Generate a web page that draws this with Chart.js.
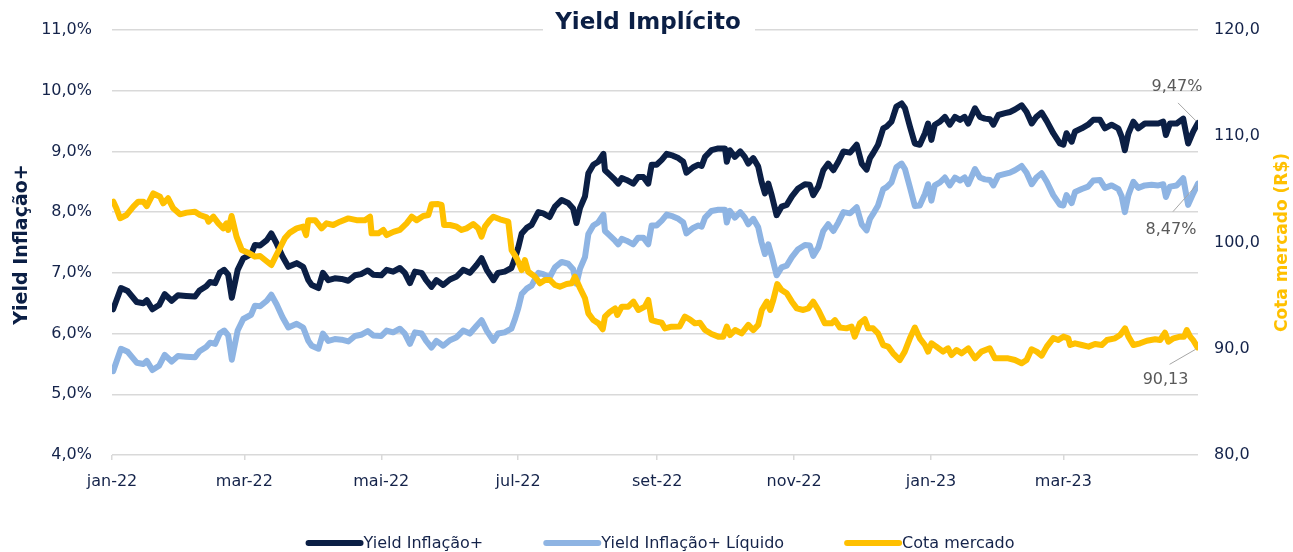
<!DOCTYPE html>
<html>
<head>
<meta charset="utf-8">
<script src="https://cdn.jsdelivr.net/npm/chart.js@4.4.0/dist/chart.umd.min.js"></script>
<style>
  html, body { margin: 0; padding: 0; background: #fff; }
  #wrap { width: 1293px; height: 552px; }
</style>
</head>
<body>
<div id="wrap"><canvas id="chart" width="1293" height="552"></canvas></div>
<script>
// x axis: days since 2022-01-01, labelled at the first day of every other month
const monthDays = [0, 59, 120, 181, 243, 304, 365, 424];
const monthLabels = ["jan-22", "mar-22", "mai-22", "jul-22", "set-22", "nov-22", "jan-23", "mar-23"];
const lastDay = 484;

const leftTicks = [4, 5, 6, 7, 8, 9, 10, 11];
const rightTicks = [80, 90, 100, 110, 120];

const seriesNames = ["Yield Inflação+", "Yield Inflação+ Líquido", "Cota mercado"];

// Yield Inflação+ and Yield Inflação+ Líquido (% a.a.)
const yieldDays = [0.5,4,7,11,14,15.5,18,21,23.5,26.6,29.4,33,37,39,42,43.7,46,48,50,51.8,53.4,56,58.5,62,63.7,66,69,71,73.4,76,78.6,82.3,85.2,87.5,89,92,94,96.4,99.3,102.3,105.3,108.3,111,114,116.4,120,122.4,125.3,128.3,130.5,132.8,135,138,140,142.4,144.6,147.6,150.6,153.6,156.5,159.5,162.5,164.7,167,170,172,175,178,179.6,181,182.6,184.8,187,190,192.2,195,197.4,200.4,203.3,205.5,207,208.6,210.8,212.3,214.5,216.7,219,219.7,222,224.2,225.6,227.2,229.3,232.3,234.5,236.8,239,240.5,242.7,245,247.2,250,252.4,254.6,256,259,261.3,262.8,264.3,267.2,270.2,273.2,274,275.4,277.6,280,282,283.6,285.8,288,289.5,291,292.5,294,296.2,298.4,300.7,303,305.8,308.8,311,312.5,314.8,317,319.2,321.5,323.7,326,328.9,331.9,334.1,336.3,337.8,339.2,341.4,343.7,345.2,347.4,349.6,351.9,353.4,355.6,357.8,360,362.3,363.7,365.2,366.7,369,371.2,373.4,375.7,378,380,381.6,384.6,386.8,389,391.3,392.8,395,398,400.2,402.4,405.4,407.6,409.9,412,414.3,416.6,419.5,422.5,424,425.4,427.7,429.2,432.2,435,437.3,440.3,442.5,445.5,448.5,450,451.4,453,455.2,457.4,460.3,463.3,466.3,468.5,469.7,471.5,474.5,477.4,479.6,481.9,484];

const yieldValues = [6.40,6.75,6.70,6.52,6.50,6.55,6.40,6.47,6.65,6.54,6.63,6.62,6.61,6.71,6.78,6.85,6.83,7.00,7.05,6.97,6.59,7.05,7.24,7.31,7.46,7.45,7.54,7.65,7.48,7.27,7.10,7.16,7.10,6.88,6.80,6.75,7.00,6.88,6.91,6.90,6.87,6.96,6.98,7.04,6.97,6.96,7.05,7.02,7.08,7.00,6.83,7.02,7.00,6.88,6.77,6.88,6.80,6.89,6.94,7.05,7.00,7.13,7.24,7.05,6.88,7.00,7.02,7.08,7.24,7.41,7.65,7.74,7.79,8.00,7.98,7.92,8.09,8.20,8.15,8.06,7.82,8.07,8.26,8.64,8.78,8.83,8.96,8.69,8.61,8.53,8.47,8.56,8.53,8.47,8.58,8.58,8.47,8.78,8.78,8.86,8.96,8.93,8.89,8.83,8.65,8.74,8.78,8.76,8.91,9.02,9.05,9.05,8.83,9.02,8.91,9.00,8.91,8.80,8.89,8.75,8.50,8.31,8.47,8.28,7.95,8.09,8.12,8.26,8.39,8.46,8.45,8.28,8.42,8.69,8.80,8.69,8.83,9.00,8.98,9.11,8.80,8.70,8.89,8.97,9.11,9.38,9.41,9.49,9.74,9.79,9.71,9.41,9.13,9.11,9.30,9.46,9.19,9.44,9.49,9.57,9.44,9.57,9.52,9.57,9.46,9.71,9.57,9.54,9.53,9.44,9.60,9.63,9.65,9.69,9.76,9.65,9.46,9.57,9.64,9.50,9.30,9.13,9.11,9.30,9.16,9.33,9.38,9.44,9.52,9.52,9.38,9.44,9.38,9.24,9.02,9.30,9.49,9.38,9.46,9.46,9.46,9.49,9.27,9.46,9.46,9.54,9.13,9.33,9.47];

const liquidoValues = [5.38,5.75,5.70,5.52,5.50,5.55,5.40,5.47,5.65,5.54,5.63,5.62,5.61,5.71,5.78,5.85,5.83,6.00,6.05,5.97,5.57,6.05,6.24,6.31,6.46,6.45,6.54,6.64,6.48,6.27,6.10,6.16,6.10,5.88,5.80,5.75,6.00,5.88,5.91,5.90,5.87,5.96,5.98,6.04,5.97,5.96,6.05,6.02,6.08,6.00,5.83,6.02,6.00,5.88,5.77,5.88,5.80,5.89,5.94,6.05,6.00,6.13,6.22,6.05,5.88,6.00,6.02,6.08,6.24,6.41,6.65,6.74,6.79,7.00,6.98,6.92,7.09,7.18,7.15,7.06,6.82,7.07,7.26,7.64,7.78,7.83,7.96,7.69,7.61,7.53,7.47,7.56,7.53,7.47,7.58,7.58,7.47,7.78,7.78,7.86,7.96,7.93,7.89,7.83,7.65,7.74,7.78,7.76,7.91,8.02,8.04,8.04,7.83,8.02,7.91,8.00,7.91,7.80,7.89,7.75,7.50,7.31,7.47,7.28,6.96,7.09,7.12,7.26,7.39,7.46,7.45,7.28,7.42,7.69,7.80,7.69,7.83,8.00,7.98,8.08,7.80,7.70,7.89,7.97,8.11,8.38,8.41,8.49,8.74,8.80,8.71,8.41,8.10,8.11,8.30,8.46,8.19,8.44,8.49,8.57,8.44,8.57,8.52,8.57,8.46,8.71,8.57,8.54,8.53,8.44,8.60,8.63,8.65,8.69,8.76,8.65,8.46,8.57,8.64,8.50,8.28,8.12,8.11,8.28,8.15,8.33,8.38,8.42,8.52,8.53,8.40,8.44,8.38,8.26,8.00,8.28,8.50,8.40,8.44,8.45,8.44,8.46,8.25,8.42,8.44,8.56,8.12,8.31,8.47];

// Cota mercado (R$)
const cotaDays = [0.6,2,3.6,6.5,9.5,11.7,14,15.5,18.4,21.4,22.8,25,27.3,30.3,33.3,37,39.2,42.2,43,45.2,47.4,49.6,51,51.8,53.3,55.5,57.8,60.7,63.7,66,68.2,71,74,77,79.3,82.3,85.2,86.5,87.5,90.5,93.4,95.6,98.6,101.6,105.3,109,112.7,115,115.7,118.7,120.9,122.4,125.4,128.3,131.3,133.6,135.8,138.7,141,142.4,145.4,146.9,148,150.6,153.6,155.8,158,161,163.2,164.7,166.2,168.4,170,172.9,176.6,178.1,180.4,182.6,184,185.5,188.5,190.7,193,195.2,197.4,199.6,202.6,204.9,206.3,208.6,210.8,212.3,214.5,216.8,218.7,219.7,222,224.2,225.2,227.2,230.1,232.4,234.6,237.5,239,240.5,242.8,245,246.4,249.4,253,255.3,257.5,259.8,262,264.3,267.2,270.2,272.4,274,275.4,277.7,280.6,283.6,285.8,288,289.6,291.8,293.3,294.7,296.5,298.4,300.7,303,305.2,308.1,310.3,312.5,314.8,317.7,320.7,322.2,324.4,327.3,329.6,331,333.3,335.5,337,339.2,341.4,343.7,345.9,348.1,351.1,353.3,355.6,357.8,360,362.3,363.7,365.2,367.4,370.4,372.6,374.1,376.4,378.6,381.6,384.6,387.5,391.2,393.5,396.4,399.4,402.4,405.4,407.6,409.8,412.1,414.3,416.6,419.5,421.7,424,426.2,427,429.2,432.2,435.2,438.1,441.1,443.4,447,449.3,451.5,453,455.2,458.2,461.2,464.9,467.1,469.3,470.8,473.1,476,477.8,479,480.5,482,483.8];

const cotaValues = [103.84,103.20,102.28,102.59,103.37,103.84,103.84,103.43,104.63,104.31,103.69,104.16,103.22,102.65,102.81,102.90,102.59,102.37,101.96,102.43,101.80,101.33,101.80,101.18,102.50,100.55,99.30,99.04,98.67,98.73,98.35,97.88,99.13,100.39,100.93,101.33,101.49,100.70,102.10,102.10,101.33,101.80,101.65,101.96,102.27,102.10,102.10,102.43,100.86,100.86,101.18,100.70,101.00,101.18,101.80,102.43,102.10,102.50,102.59,103.60,103.62,103.53,101.65,101.65,101.49,101.18,101.33,101.74,101.33,100.55,101.49,102.10,102.43,102.18,101.96,99.29,98.51,97.41,98.35,97.25,96.78,96.16,96.47,96.47,96.00,95.84,96.09,96.16,96.78,95.69,94.75,93.33,92.70,92.39,91.83,93.02,93.49,93.80,93.18,93.96,93.96,94.43,93.65,93.96,94.59,92.70,92.55,92.45,91.92,92.08,92.10,93.02,92.77,92.39,92.45,91.76,91.39,91.14,91.14,92.08,91.29,91.76,91.45,92.24,91.76,92.24,93.65,94.43,93.65,94.59,96.09,95.53,95.22,94.43,93.80,93.65,93.80,94.43,93.65,92.39,92.39,92.70,92.00,91.92,92.08,91.14,92.39,92.78,91.92,91.92,91.45,90.35,90.20,89.57,88.94,89.73,90.98,92.00,90.98,90.35,89.73,90.51,90.20,89.73,90.04,89.41,89.88,89.57,90.04,89.10,89.73,90.04,89.10,89.10,89.10,88.94,88.63,88.94,89.95,89.73,89.35,90.20,91.00,90.82,91.14,90.98,90.35,90.51,90.35,90.20,90.45,90.35,90.82,90.98,91.29,91.92,91.14,90.35,90.51,90.76,90.89,90.82,91.51,90.67,90.98,91.14,91.14,91.76,91.14,90.76,90.13];

const NAVY = "#0B1F45";
const LIGHT = "#8EB4E3";
const GOLD = "#FFC000";
const INK = "#14234A";
const GREY = "#595959";
const GRID = "#D9D9D9";
const FONT = "'DejaVu Sans', Verdana, sans-serif";

const comma = (v, d) => v.toFixed(d).replace(".", ",");
const toPoints = (days, vals) => days.map((d, i) => ({ x: d, y: vals[i] }));

// where the value label of the last point sits, relative to that point
const endLabels = [
  { dx: -21, dy: -36, lx: -20, ly: -20, text: comma(yieldValues[yieldValues.length - 1], 2) + "%" },
  { dx: -27, dy: 46, lx: -25, ly: 28, text: comma(liquidoValues[liquidoValues.length - 1], 2) + "%" },
  { dx: -32, dy: 32, lx: -28, ly: 17, text: comma(cotaValues[cotaValues.length - 1], 2) },
];

const decor = {
  id: "decor",
  afterDatasetsDraw(chart) {
    const ctx = chart.ctx;
    ctx.save();
    ctx.font = "16px " + FONT;
    ctx.textAlign = "center";
    ctx.textBaseline = "middle";
    endLabels.forEach((lab, i) => {
      const pts = chart.getDatasetMeta(i).data;
      const p = pts[pts.length - 1];
      ctx.strokeStyle = "#A6A6A6";
      ctx.lineWidth = 1;
      ctx.beginPath();
      ctx.moveTo(p.x - 2, p.y + (lab.ly > 0 ? 2 : -2));
      ctx.lineTo(p.x + lab.lx, p.y + lab.ly);
      ctx.stroke();
      ctx.fillStyle = GREY;
      ctx.fillText(lab.text, p.x + lab.dx, p.y + lab.dy);
    });
    ctx.restore();
  },
  afterDraw(chart) {
    const ctx = chart.ctx;
    const area = chart.chartArea;
    const midY = (area.top + area.bottom) / 2;
    ctx.save();
    ctx.textAlign = "center";
    ctx.textBaseline = "middle";

    // title sits in a white box that breaks the top gridline
    ctx.fillStyle = "#fff";
    ctx.fillRect(543, 8, 212, 32);
    ctx.fillStyle = NAVY;
    ctx.font = "bold 23px " + FONT;
    ctx.fillText("Yield Implícito", 648, 23);

    ctx.save();
    ctx.translate(22, midY + 2);
    ctx.rotate(-Math.PI / 2);
    ctx.font = "bold 19px " + FONT;
    ctx.fillStyle = NAVY;
    ctx.fillText("Yield Inflação+", 0, 0);
    ctx.restore();

    ctx.save();
    ctx.translate(1283, midY);
    ctx.rotate(-Math.PI / 2);
    ctx.font = "bold 17px " + FONT;
    ctx.fillStyle = GOLD;
    ctx.fillText("Cota mercado (R$)", 0, 0);
    ctx.restore();

    // legend
    ctx.font = "16px " + FONT;
    ctx.textAlign = "left";
    const sym = 58, gap = 60, y = 543;
    const items = chart.data.datasets.map((ds) => ({ ds, w: ctx.measureText(ds.label).width }));
    const total = items.reduce((s, it) => s + sym + it.w, 0) + gap * (items.length - 1);
    let x = 660 - total / 2;
    items.forEach((it) => {
      ctx.strokeStyle = it.ds.borderColor;
      ctx.lineWidth = 6;
      ctx.lineCap = "round";
      ctx.beginPath();
      ctx.moveTo(x + 3, y);
      ctx.lineTo(x + sym - 3, y);
      ctx.stroke();
      ctx.fillStyle = INK;
      ctx.fillText(it.ds.label, x + sym, y + 1);
      x += sym + it.w + gap;
    });
    ctx.restore();
  },
};

const lineStyle = {
  borderWidth: 6,
  pointRadius: 0,
  pointHoverRadius: 0,
  tension: 0,
  borderJoinStyle: "round",
  borderCapStyle: "round",
  fill: false,
};

new Chart(document.getElementById("chart"), {
  type: "line",
  data: {
    datasets: [
      { ...lineStyle, label: seriesNames[0], data: toPoints(yieldDays, yieldValues), borderColor: NAVY, yAxisID: "y", order: 1 },
      { ...lineStyle, label: seriesNames[1], data: toPoints(yieldDays, liquidoValues), borderColor: LIGHT, yAxisID: "y", order: 2 },
      { ...lineStyle, label: seriesNames[2], data: toPoints(cotaDays, cotaValues), borderColor: GOLD, yAxisID: "y1", order: 0 },
    ],
  },
  options: {
    responsive: false,
    animation: false,
    devicePixelRatio: 1,
    layout: { padding: { top: 30, bottom: 57, left: 0, right: 0 } },
    plugins: { legend: { display: false }, title: { display: false }, tooltip: { enabled: false } },
    scales: {
      x: {
        type: "linear",
        min: 0,
        max: lastDay,
        afterFit: (s) => { s.height = 40; },
        afterBuildTicks: (s) => { s.ticks = monthDays.map((v) => ({ value: v })); },
        grid: { display: true, drawOnChartArea: false, drawTicks: true, tickLength: 5, color: GRID, lineWidth: 1.5 },
        border: { display: false },
        ticks: {
          autoSkip: false,
          maxRotation: 0,
          padding: 12,
          color: INK,
          font: { family: FONT, size: 16 },
          callback: (v, i) => monthLabels[i],
        },
      },
      y: {
        position: "left",
        min: leftTicks[0],
        max: leftTicks[leftTicks.length - 1],
        afterFit: (s) => { s.width = 112; },
        afterBuildTicks: (s) => { s.ticks = leftTicks.map((v) => ({ value: v })); },
        grid: { color: GRID, lineWidth: 1.5, drawTicks: false, tickLength: 0 },
        border: { display: false },
        ticks: { padding: 20, color: INK, font: { family: FONT, size: 16 }, callback: (v) => comma(v, 1) + "%" },
      },
      y1: {
        position: "right",
        min: rightTicks[0],
        max: rightTicks[rightTicks.length - 1],
        afterFit: (s) => { s.width = 95; },
        afterBuildTicks: (s) => { s.ticks = rightTicks.map((v) => ({ value: v })); },
        grid: { display: false, drawTicks: false, tickLength: 0 },
        border: { display: false },
        ticks: { padding: 16, color: INK, font: { family: FONT, size: 16 }, callback: (v) => comma(v, 1) },
      },
    },
  },
  plugins: [decor],
});
</script>
</body>
</html>
